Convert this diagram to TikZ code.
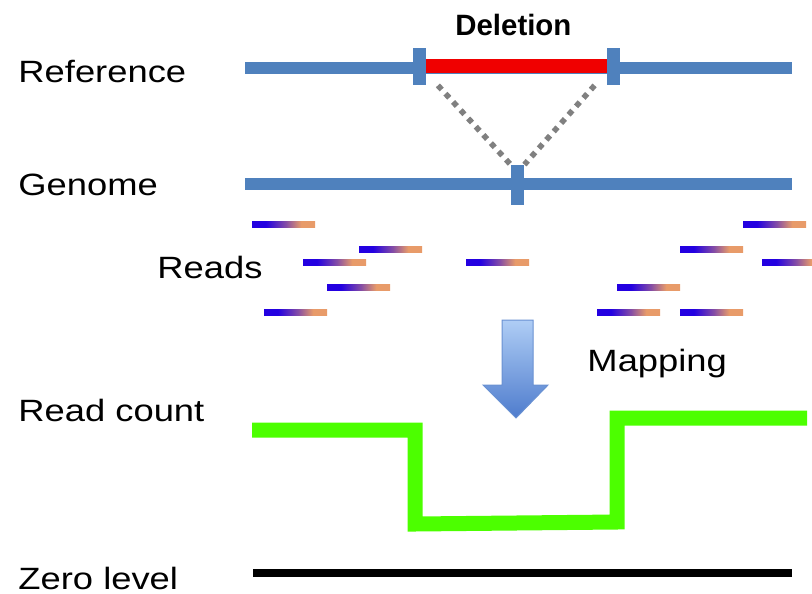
\documentclass[tikz,border=0pt]{standalone}
\usepackage{fontspec}
\setmainfont{Liberation Sans}
\usepackage{xcolor}
\usepackage{tikz}

\definecolor{chromblue}{RGB}{79,129,189}
\definecolor{delred}{RGB}{240,0,0}
\definecolor{gapgray}{RGB}{128,128,128}
\definecolor{countgreen}{RGB}{76,255,0}
\definecolor{readblue}{RGB}{35,0,225}
\definecolor{readorange}{RGB}{232,155,105}
\definecolor{maptop}{RGB}{175,205,245}
\definecolor{mapbottom}{RGB}{78,124,205}
\definecolor{mapedge}{RGB}{105,145,210}

\pgfdeclarehorizontalshading{readshade}{100bp}{color(0bp)=(readblue); color(25bp)=(readblue);
  color(36bp)=(readblue); color(52bp)=(readblue!50!readorange); color(64bp)=(readorange);
  color(75bp)=(readorange); color(100bp)=(readorange)}

\begin{document}
\begin{tikzpicture}[
    x=0.5pt, y=-0.5pt,
    lbl/.style={anchor=base west, inner sep=0pt, xscale=1.18, font=\fontsize{15.4}{18}\selectfont},
    dellbl/.style={anchor=base west, inner sep=0pt, font=\fontsize{14.7}{17}\selectfont\bfseries},
    chrom/.style={draw=chromblue, line width=6pt},
    tick/.style={rectangle, fill=chromblue, inner sep=0pt, minimum width=6.5pt},
    gapline/.style={draw=gapgray, line width=2.8pt, dash pattern=on 2.8pt off 2.8pt},
    readbar/.style={shading=readshade},
    countline/.style={draw=countgreen, line width=7.5pt},
    zeroline/.style={draw=black, line width=4pt}
]
\useasboundingbox (0,0) rectangle (812,593);

% labels
\node (lblref) [lbl] at (18,83) {Reference};
\node (lblgen) [lbl] at (18,195) {Genome};
\node (lblreads) [lbl] at (157,278) {Reads};
\node (lblmap) [lbl] at (587,371) {Mapping};
\node (lblcount) [lbl] at (18,421) {Read count};
\node (lblzero) [lbl] at (18,589) {Zero level};
\node (lbldel) [dellbl] at (455,36) {Deletion};

% reference and genome
\draw[chrom] (245,68) -- (792,68);
\draw[delred, line width=7pt] (425,66) -- (607,66);
\draw[chrom] (245,184) -- (792,184);
\node (tickL) [tick, minimum height=18.5pt] at (419,66.5) {};
\node (tickR) [tick, minimum height=18.5pt] at (613.5,66.5) {};
\node (tickG) [tick, minimum height=20pt] at (517.5,185) {};
\draw[gapline] ([xshift=6pt]tickL.south east) -- (tickG.north west);
\draw[gapline] ([xshift=-6pt]tickR.south west) -- (tickG.north east);

% reads
\foreach \rx/\ry in {252/224, 359/249, 303/262, 466/262, 327/287, 264/312,
                     743/224, 680/249, 762/262, 617/287, 597/312, 680/312}
  \shade[readbar] (\rx,\ry-3) rectangle (\rx+63,\ry+3);

% mapping arrow
\path[top color=maptop, bottom color=mapbottom, draw=mapedge, line width=0.5pt]
  (502,320) -- (533,320) -- (533,385) -- (548,385) -- (516,418)
  -- (483,385) -- (502,385) -- cycle;

% read count and zero level
\draw[countline] (252,430) -- (415,430) -- (415,524) -- (617,522) -- (617,418) -- (807,418);
\draw[zeroline] (253,573) -- (792,573);
\end{tikzpicture}
\end{document}
